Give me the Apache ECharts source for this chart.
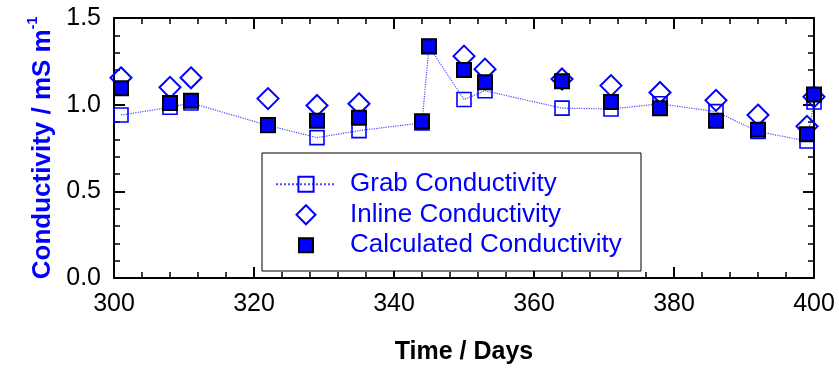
<!DOCTYPE html>
<html>
<head>
<meta charset="utf-8">
<script src="https://cdn.jsdelivr.net/npm/echarts@6/dist/echarts.min.js"></script>
<style>
  html, body { margin: 0; padding: 0; background: #ffffff; }
  #chart { width: 839px; height: 370px; }
</style>
</head>
<body>
<div id="chart"></div>
<script>
// Sampling days and the three conductivity records (mS m^-1)
const days    = [301, 308, 311, 322, 329, 335, 344, 345, 350, 353, 364, 371, 378, 386, 392, 399, 400];
const grab    = [0.94, 0.985, 1.01, 0.88, 0.81, 0.85, 0.895, 1.335, 1.03, 1.08, 0.98, 0.975, 1.005, 0.96, 0.845, 0.79, 1.015];
const inline  = [1.155, 1.10, 1.155, 1.035, 0.995, 1.005, null, null, 1.28, 1.205, 1.148, 1.11, 1.07, 1.025, 0.94, 0.875, 1.045];
const calc    = [1.095, 1.01, 1.023, 0.882, 0.907, 0.924, 0.905, 1.337, 1.20, 1.13, 1.135, 1.015, 0.98, 0.907, 0.855, 0.83, 1.058];

const seriesNames = ['Grab Conductivity', 'Inline Conductivity', 'Calculated Conductivity'];
const xRange = { min: 300, max: 400, step: 20 };
const yRange = { min: 0, max: 1.5, step: 0.5 };

const FONT = 'Arial, "Liberation Sans", sans-serif';
const BLUE = '#0000ff';

const pairs = vals => days.map((d, i) => vals[i] == null ? null : [d, vals[i]]).filter(p => p);

// Legend icons drawn inside a 60x19 box (the two lone move-to points fix the box
// so the shape keeps its own size and sits in the middle of the icon area).
const ICON_BOX = 'M0,0 M60,19 ';
const diamondIcon = 'path://' + ICON_BOX + 'M20.5,9.5 L30,0 L39.5,9.5 L30,19 Z';
const squareIcon  = 'path://' + ICON_BOX + 'M23,2.5 L37,2.5 L37,16.5 L23,16.5 Z';

const frameLine = { show: true, onZero: false, lineStyle: { color: '#000', width: 2 } };
const tickIn = { show: true, inside: true, length: 11, lineStyle: { color: '#000', width: 2 } };
const minorIn = { show: true, splitNumber: 5, length: 6, lineStyle: { color: '#000', width: 1.5 } };

const chart = echarts.init(document.getElementById('chart'), null, { renderer: 'canvas' });

chart.setOption({
  animation: false,
  backgroundColor: '#ffffff',
  grid: { left: 114, right: 25, top: 18, bottom: 88, containLabel: false },
  xAxis: [
    {
      type: 'value', position: 'bottom',
      min: xRange.min, max: xRange.max, interval: xRange.step,
      axisLine: frameLine, axisTick: tickIn, minorTick: minorIn,
      splitLine: { show: false },
      axisLabel: { color: '#000', fontSize: 25, fontFamily: FONT, margin: 14 },
      name: 'Time / Days', nameLocation: 'middle', nameGap: 62,
      nameTextStyle: { color: '#000', fontSize: 25, fontWeight: 'bold', fontFamily: FONT }
    },
    {
      type: 'value', position: 'top',
      min: xRange.min, max: xRange.max, interval: xRange.step,
      axisLine: frameLine, axisTick: tickIn, minorTick: minorIn,
      splitLine: { show: false }, axisLabel: { show: false }
    }
  ],
  yAxis: [
    {
      type: 'value', position: 'left',
      min: yRange.min, max: yRange.max, interval: yRange.step,
      axisLine: frameLine, axisTick: tickIn, minorTick: minorIn,
      splitLine: { show: false },
      axisLabel: { color: '#000', fontSize: 25, fontFamily: FONT, margin: 13,
                   formatter: v => v.toFixed(1) },
      name: '{m|Conductivity / mS m}{s|-1}', nameLocation: 'middle', nameGap: 51,
      nameTextStyle: {
        color: BLUE, fontSize: 26, fontWeight: 'bold', fontFamily: FONT,
        rich: {
          m: { color: BLUE, fontSize: 26, fontWeight: 'bold', fontFamily: FONT, lineHeight: 32 },
          s: { color: BLUE, fontSize: 14, fontWeight: 'bold', fontFamily: FONT, verticalAlign: 'top', lineHeight: 15 }
        }
      }
    },
    {
      type: 'value', position: 'right',
      min: yRange.min, max: yRange.max, interval: yRange.step,
      axisLine: frameLine, axisTick: tickIn, minorTick: minorIn,
      splitLine: { show: false }, axisLabel: { show: false }
    }
  ],
  legend: {
    orient: 'vertical', left: 270, top: 164,
    itemWidth: 60, itemHeight: 19, itemGap: 0,
    selectedMode: false,
    textStyle: { color: BLUE, fontSize: 26, fontFamily: FONT, lineHeight: 30.5, padding: [0, 0, 0, 9] },
    data: [
      { name: seriesNames[0] },
      { name: seriesNames[1], icon: diamondIcon },
      { name: seriesNames[2], icon: squareIcon }
    ]
  },
  graphic: [{
    type: 'rect', z: 3,
    shape: { x: 262, y: 153, width: 379, height: 118 },
    style: { fill: '#ffffff', stroke: '#000', lineWidth: 1 }
  }],
  series: [
    {
      name: seriesNames[0], type: 'line', data: pairs(grab), clip: false, z: 2,
      symbol: 'rect', symbolSize: 14, showAllSymbol: true,
      lineStyle: { color: '#4a4aff', width: 1.2, type: 'dotted' },
      itemStyle: { color: 'rgba(255,255,255,0)', borderColor: BLUE, borderWidth: 1.6, opacity: 1 },
      emphasis: { disabled: true }
    },
    {
      name: seriesNames[1], type: 'scatter', data: pairs(inline), clip: false, z: 3,
      symbol: 'diamond', symbolSize: 21,
      itemStyle: { color: 'rgba(255,255,255,0)', borderColor: BLUE, borderWidth: 2, opacity: 1 },
      emphasis: { disabled: true }
    },
    {
      name: seriesNames[2], type: 'scatter', data: pairs(calc), clip: false, z: 4,
      symbol: 'rect', symbolSize: 14,
      itemStyle: { color: BLUE, borderColor: '#000', borderWidth: 2, opacity: 1 },
      emphasis: { disabled: true }
    }
  ]
});
</script>
</body>
</html>
